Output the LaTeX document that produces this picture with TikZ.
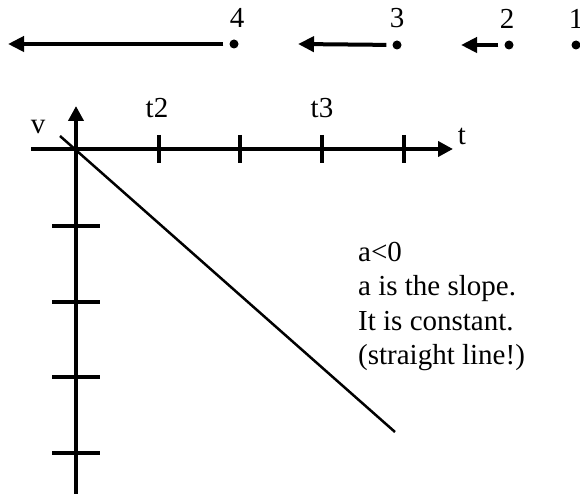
\documentclass[tikz,border=0pt]{standalone}
\usepackage{fontspec}
\setmainfont{Liberation Serif}
\usetikzlibrary{arrows.meta,positioning}

\begin{document}
\begin{tikzpicture}[
    x=1pt, y=-1pt,
    axis/.style={line width=4pt, -{Triangle[length=15pt,width=15pt]}},
    tickmark/.style={line width=4pt},
    carpos/.style={circle, fill, inner sep=0pt, minimum size=9pt},
    motion/.style={line width=4pt, -{Triangle[length=16pt,width=15pt]}, shorten <=6pt},
    lbl/.style={font=\fontsize{29}{34.5}\selectfont, inner sep=0pt},
    node distance=12pt
]
    \useasboundingbox (0,0) rectangle (580,494);

    % positions of the car, one per second
    \node[carpos] (p4) at (234,44) {};
    \node[carpos] (p3) at (397,45) {};
    \node[carpos] (p2) at (509,45) {};
    \node[carpos] (p1) at (576,45) {};
    \node[lbl, above=of p4, xshift=3pt] (n4) {4};
    \node[lbl, above=of p3] (n3) {3};
    \node[lbl, above=of p2, xshift=-2pt] (n2) {2};
    \node[lbl, above=of p1] (n1) {1};

    \coordinate (e4) at (8,44);
    \coordinate (e3) at (298,44);
    \coordinate (e2) at (461,45);
    \draw[motion] (p4) -- (e4);
    \draw[motion] (p3) -- (e3);
    \draw[motion] (p2) -- (e2);

    % v-t axes
    \coordinate (origin) at (76,149);
    \coordinate (tstart) at (31,149);
    \coordinate (tend) at (453,149);
    \coordinate (vstart) at (76,494);
    \coordinate (vend) at (76,106);
    \draw[axis] (tstart) -- (tend);
    \draw[axis] (vstart) -- (vend);
    \foreach \x in {159,240,322,404}
        \draw[tickmark] (\x,135) -- (\x,163);
    \foreach \y in {149,226,302,377,453}
        \draw[tickmark] (52,\y) -- (100,\y);

    \node[lbl] (vlabel) at (38,127) {v};
    \node[lbl] (tlabel) at (462,136) {t};
    \node[lbl] (t2) at (157,108) {t2};
    \node[lbl] (t3) at (322,108) {t3};

    % velocity line
    \coordinate (lstart) at (60,136);
    \coordinate (lend) at (395,432);
    \draw[line width=2.5pt] (lstart) -- (lend);

    \node[lbl, align=left, anchor=north west] (note) at (358,242) {a<0\\
        a is the slope.\\
        It is constant.\\
        (straight line!)};
\end{tikzpicture}
\end{document}
